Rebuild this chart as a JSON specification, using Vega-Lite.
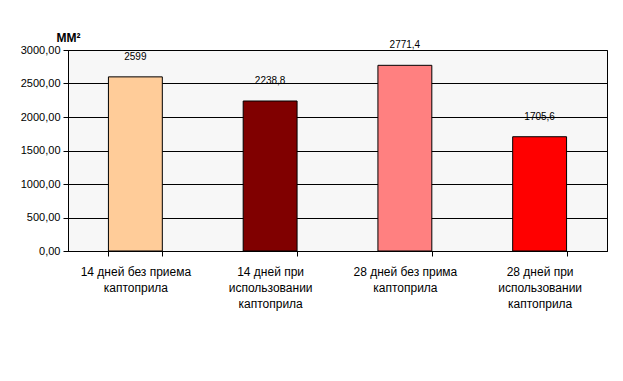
{
  "$schema": "https://vega.github.io/schema/vega-lite/v6.json",
  "autosize": "none",
  "padding": {"left": 68, "top": 50, "right": 16, "bottom": 130},
  "width": 539,
  "height": 201,
  "background": "white",
  "config": {
    "font": "Liberation Sans",
    "view": {"fill": "#f7f7f7", "stroke": "black", "strokeWidth": 1}
  },
  "data": {
    "values": [
      {"group": "14 дней без приема|каптоприла", "value": 2599, "label": "2599", "color": "#FFCC99"},
      {"group": "14 дней при|использовании|каптоприла", "value": 2238.8, "label": "2238,8", "color": "#800000"},
      {"group": "28 дней без прима|каптоприла", "value": 2771.4, "label": "2771,4", "color": "#FF8080"},
      {"group": "28 дней при|использовании|каптоприла", "value": 1705.6, "label": "1705,6", "color": "#FF0000"}
    ]
  },
  "encoding": {
    "x": {
      "field": "group",
      "type": "nominal",
      "sort": null,
      "scale": {"paddingInner": 0.6, "paddingOuter": 0.3},
      "axis": {
        "title": null,
        "labelAngle": 0,
        "labelExpr": "split(datum.label, '|')",
        "labelFontSize": 12,
        "labelLineHeight": 16,
        "labelColor": "black",
        "labelPadding": 10,
        "labelBaseline": "top",
        "tickBand": "extent",
        "tickSize": 5,
        "tickColor": "black",
        "domainColor": "black",
        "labelLimit": 200
      }
    },
    "y": {
      "field": "value",
      "type": "quantitative",
      "scale": {"domain": [0, 3000], "nice": false},
      "axis": {
        "values": [0, 500, 1000, 1500, 2000, 2500, 3000],
        "labelExpr": "replace(format(datum.value, '.2f'), '.', ',')",
        "labelFontSize": 11,
        "labelColor": "black",
        "labelPadding": 3,
        "tickSize": 5,
        "tickColor": "black",
        "domainColor": "black",
        "grid": true,
        "gridColor": "black",
        "gridOpacity": 1,
        "title": "ММ²",
        "titleAngle": 0,
        "titleX": -12,
        "titleY": -9,
        "titleAlign": "left",
        "titleBaseline": "alphabetic",
        "titleFontWeight": "bold",
        "titleFontSize": 12,
        "titleColor": "black"
      }
    }
  },
  "layer": [
    {
      "mark": {"type": "bar", "stroke": "black", "strokeWidth": 1},
      "encoding": {
        "color": {"field": "color", "type": "nominal", "scale": null, "legend": null}
      }
    },
    {
      "mark": {"type": "text", "baseline": "middle", "dy": -20, "fontSize": 10, "color": "black"},
      "encoding": {"text": {"field": "label"}}
    }
  ]
}
